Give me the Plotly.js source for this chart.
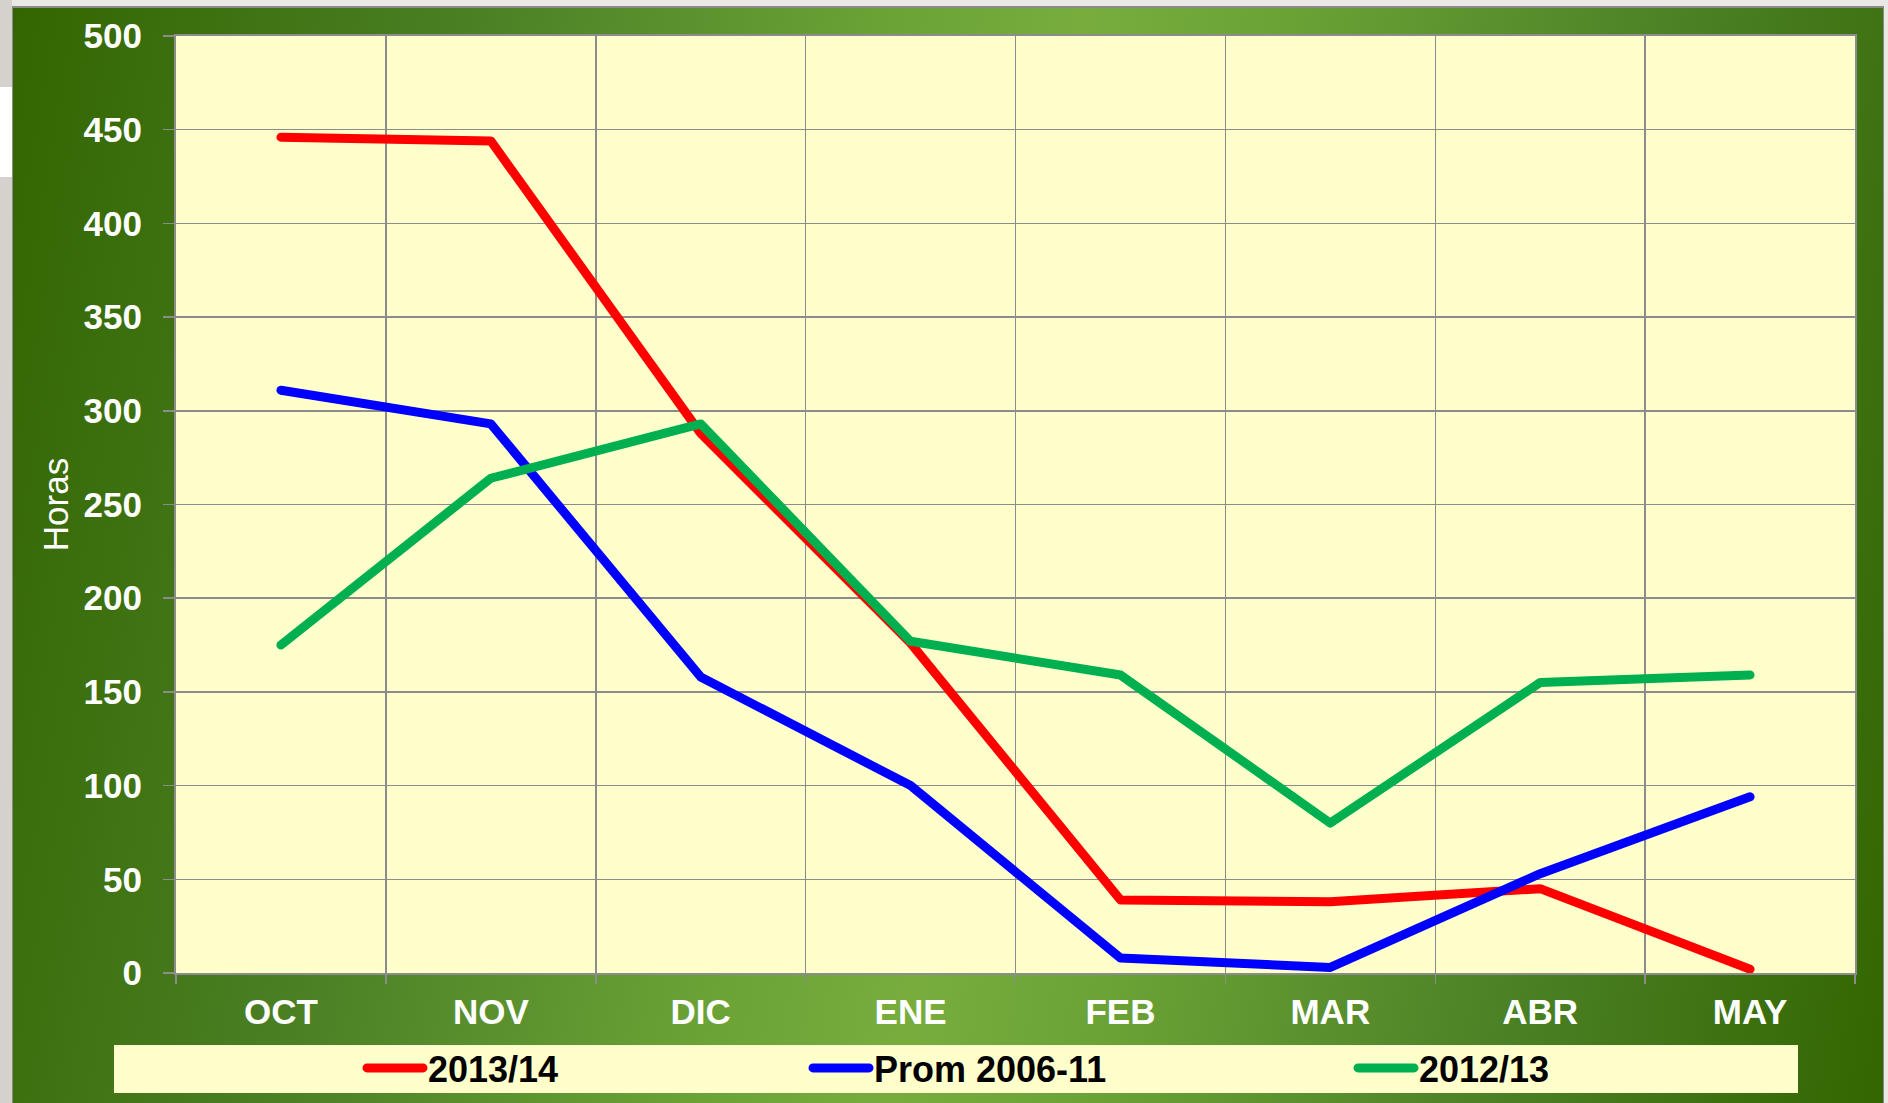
<!DOCTYPE html>
<html>
<head>
<meta charset="utf-8">
<script src="https://cdn.plot.ly/plotly-3.0.1.min.js"></script>
<style>
  html, body { margin: 0; padding: 0; width: 1888px; height: 1103px; overflow: hidden; background: #e9e8e5; }
  #leftstrip { position: absolute; left: 0; top: 0; width: 12px; height: 1103px; background: #d5d1cd; }
  #leftwhite { position: absolute; left: 0; top: 87px; width: 12px; height: 90px; background: #ffffff; }
  #panel { position: absolute; left: 12px; top: 6px; width: 1872px; height: 1097px; box-sizing: border-box;
           border-left: 1px solid #8a8a8a; border-top: 2px solid #8a8a8a; border-right: 1px solid #8a8a8a;
           background: linear-gradient(100deg, #336600 0%, #4a7f24 22%, #6aa236 42%, #78ad3e 52%, #6aa236 62%, #4a7f24 82%, #336600 100%); }
  #chart { position: absolute; left: 0; top: 0; width: 1888px; height: 1103px; }
  #chart path.js-line { stroke-linecap: round; stroke-linejoin: round; }
</style>
</head>
<body>
<div id="leftstrip"></div>
<div id="leftwhite"></div>
<div id="panel"></div>
<div id="chart"></div>
<script>
const categories = ["OCT", "NOV", "DIC", "ENE", "FEB", "MAR", "ABR", "MAY"];
const seriesNames = ["2013/14", "Prom 2006-11", "2012/13"];
const values2013_14 = [446, 444, 288, 176, 39, 38, 45, 2];
const valuesProm2006_11 = [311, 293, 158, 100, 8, 3, 53, 94];
const values2012_13 = [175, 264, 293, 177, 159, 80, 155, 159];
const yTickValues = [0, 50, 100, 150, 200, 250, 300, 350, 400, 450, 500];

const colors = ["#ff0000", "#0000ff", "#00b050"];
const font = "Liberation Sans, Arial, sans-serif";

function mk(name, y, color, legendId) {
  return {
    type: "scatter", mode: "lines", name: name, x: categories, y: y,
    line: { color: color, width: 9 }, legend: legendId, hoverinfo: "skip"
  };
}

const data = [
  mk(seriesNames[0], values2013_14, colors[0], "legend"),
  mk(seriesNames[1], valuesProm2006_11, colors[1], "legend2"),
  mk(seriesNames[2], values2012_13, colors[2], "legend3")
];

const W = 1888, H = 1103;
const L = 176, R = 1855, T = 36, B = 973;
const pw = R - L, ph = B - T;
const px = v => (v - L) / pw;
const py = v => (B - v) / ph;

const legendCommon = (xpx) => ({
  orientation: "h", x: px(xpx), xanchor: "left", y: py(1068), yanchor: "middle",
  bgcolor: "rgba(0,0,0,0)", borderwidth: 0, itemwidth: 56,
  font: { family: font, size: 36, color: "#000000", weight: "bold" }
});

const layout = {
  width: W, height: H,
  margin: { l: L, r: W - R, t: T, b: H - B, pad: 0, autoexpand: false },
  paper_bgcolor: "rgba(0,0,0,0)",
  plot_bgcolor: "#ffffcc",
  showlegend: true,
  hovermode: false,
  xaxis: {
    type: "category", tickson: "boundaries", range: [-0.5, 7.5],
    showgrid: true, gridcolor: "#8c8c8c", gridwidth: 1.5,
    showline: true, linecolor: "#8c8c8c", linewidth: 2, mirror: true,
    ticks: "outside", ticklen: 9, tickcolor: "#8c8c8c", tickwidth: 1.5,
    tickfont: { family: font, size: 35, color: "#ffffff", weight: "bold" },
    ticklabelstandoff: 7,
    fixedrange: true
  },
  yaxis: {
    range: [0, 500], tickvals: yTickValues,
    showgrid: true, gridcolor: "#8c8c8c", gridwidth: 1.5, zeroline: false,
    showline: true, linecolor: "#8c8c8c", linewidth: 2, mirror: true,
    ticks: "outside", ticklen: 11, tickcolor: "#8c8c8c", tickwidth: 1.5,
    tickfont: { family: font, size: 35, color: "#ffffff", weight: "bold" },
    ticklabelstandoff: 14,
    title: { text: "Horas", font: { family: font, size: 35, color: "#ffffff" }, standoff: 4 },
    fixedrange: true
  },
  legend: legendCommon(362),
  legend2: legendCommon(808),
  legend3: legendCommon(1353),
  shapes: [{
    type: "rect", xref: "paper", yref: "paper", layer: "below",
    x0: px(114), x1: px(1798), y0: py(1093), y1: py(1045),
    fillcolor: "#ffffcc", line: { width: 0 }
  }]
};

Plotly.newPlot("chart", data, layout, { displayModeBar: false, staticPlot: true });
</script>
</body>
</html>
